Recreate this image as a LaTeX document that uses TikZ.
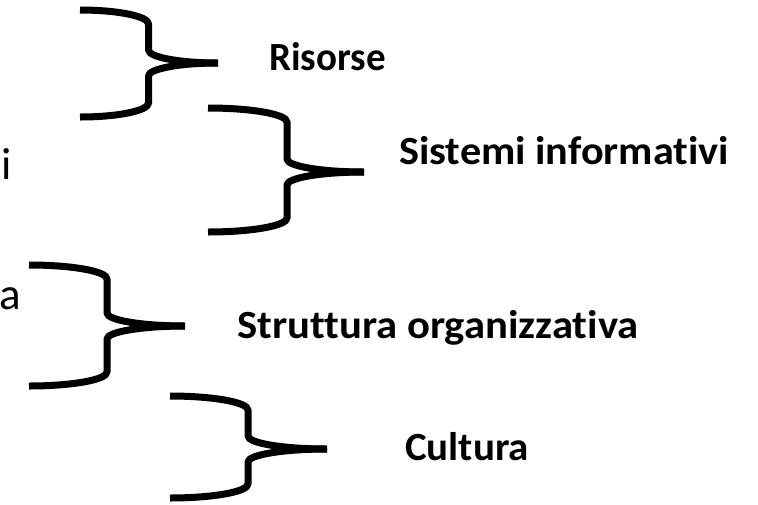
\documentclass[tikz,border=0pt]{standalone}
\usepackage{fontspec}
\setmainfont{Carlito}[Ligatures={NoCommon}]
\tikzset{
  bracestyle/.style={line width=7pt, line cap=butt, line join=round, black},
  lab/.style={anchor=base west, inner sep=0pt, font=\fontsize{40}{42}\selectfont\bfseries},
  cut/.style={inner sep=0pt, font=\fontsize{45}{47}\selectfont}
}
\newcommand\mybrace[6]{%
  \draw[bracestyle] (#1,#4) .. controls ({#1+0.552*(#2-#1)},#4) and (#2,{#4+14-0.552*14}) .. (#2,{#4+14})
     -- (#2,{#5-13}) .. controls (#2,{#5-13+0.552*13}) and ({#3-0.552*(#3-#2)},#5) .. (#3,#5);
  \draw[bracestyle] (#3,#5) .. controls ({#3-0.552*(#3-#2)},#5) and (#2,{#5+13-0.552*13}) .. (#2,{#5+13})
     -- (#2,{#6-14}) .. controls (#2,{#6-14+0.552*14}) and ({#1+0.552*(#2-#1)},#6) .. (#1,#6);
}
\begin{document}
\begin{tikzpicture}[x=1pt,y=-1pt]
\useasboundingbox[fill=white] (0,0) rectangle (758,504);
\mybrace{80}{148.5}{218}{10}{63}{117}
\mybrace{208}{287}{364}{108}{172}{232}
\mybrace{29}{107}{185}{265}{326}{386}
\mybrace{170}{248}{327}{396}{449}{498}
\node[lab] (risorse) at (269,70) {\addfontfeature{FakeStretch=0.975}Risorse};
\node[lab] (sistemi) at (399,164) {\addfontfeature{FakeStretch=1.055}Sistemi informativi};
\node[lab] (struttura) at (237,338) {\addfontfeature{FakeStretch=1.067}Struttura organizzativa};
\node[lab] (cultura) at (405,460) {\addfontfeature{FakeStretch=1.025}Cultura};
\node[cut, anchor=base west] (ci) at (1,179) {i};
\node[cut, anchor=base west] (ca) at (-1,309) {a};
\end{tikzpicture}
\end{document}
